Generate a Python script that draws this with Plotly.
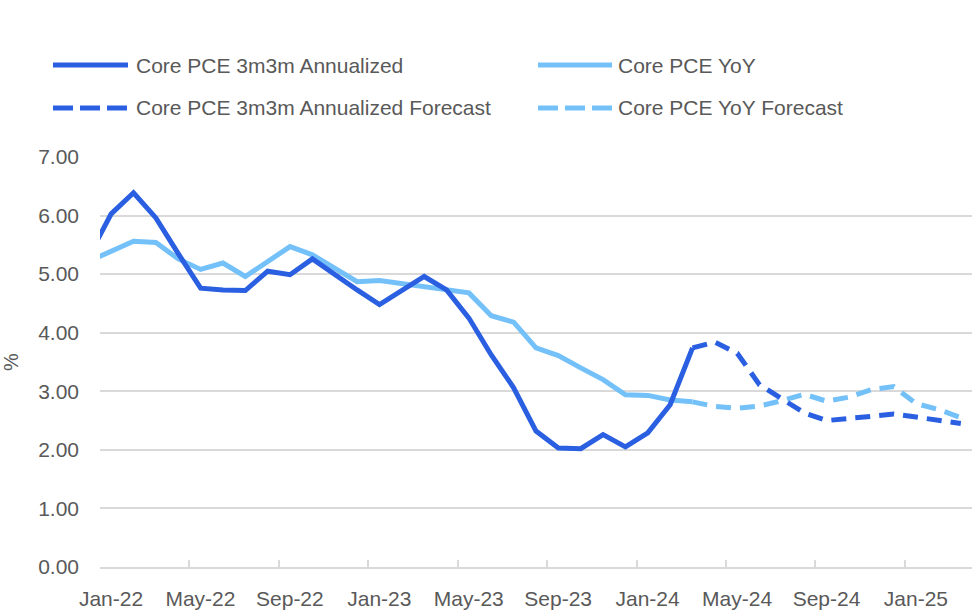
import plotly.graph_objects as go
import pandas as pd

# ---------------- data ----------------
months = [d.strftime("%b-%y") for d in pd.date_range("2021-12-01", "2025-03-01", freq="MS")]

core_3m3m = [5.30, 6.03, 6.39, 5.96, 5.35, 4.76, 4.73, 4.72, 5.05, 4.99, 5.26, 4.99,
             4.73, 4.48, 4.73, 4.96, 4.73, 4.25, 3.62, 3.06, 2.32, 2.03, 2.02, 2.26,
             2.05, 2.29, 2.77, 3.74]
core_yoy = [5.22, 5.38, 5.56, 5.54, 5.26, 5.08, 5.19, 4.96, 5.22, 5.47, 5.33, 5.10,
            4.87, 4.89, 4.84, 4.79, 4.75, 4.68, 4.29, 4.18, 3.74, 3.61, 3.40, 3.20,
            2.94, 2.93, 2.85, 2.82]
fc_3m3m = [3.74, 3.84, 3.65, 3.11, 2.87, 2.63, 2.50, 2.53, 2.57, 2.61, 2.56, 2.51, 2.45]
fc_yoy = [2.82, 2.74, 2.71, 2.75, 2.84, 2.95, 2.83, 2.90, 3.03, 3.08, 2.79, 2.69, 2.55]

tick_labels = ["Jan-22", "May-22", "Sep-22", "Jan-23", "May-23", "Sep-23",
               "Jan-24", "May-24", "Sep-24", "Jan-25"]
y_ticks = [0, 1, 2, 3, 4, 5, 6, 7]

names = ["Core PCE 3m3m Annualized", "Core PCE YoY",
         "Core PCE 3m3m Annualized Forecast", "Core PCE YoY Forecast"]

# ---------------- style ----------------
DARK = "#2A5FE2"
LIGHT = "#74C1FA"
TXT = "#595959"
GRID = "#D9D9D9"
FONT = "Liberation Sans, Arial, sans-serif"
FS = 21
DASH = "15px,9px"
LW = 5

W, H = 972, 615
ML, MR, MT, MB = 100, 0, 157, 48
PW, PH = W - ML - MR, H - MT - MB

# month index positions on a linear axis (one unit per month)
pos = {m: i for i, m in enumerate(months)}
n_hist = len(core_3m3m)
hist_x = [pos[m] for m in months[:n_hist]]
fc_x = [pos[m] for m in months[n_hist - 1:]]
x_lo, x_hi = pos["Jan-22"] - 0.5, len(months) - 0.5
half_cat_px = int(round(PW / (x_hi - x_lo) / 2))

fig = go.Figure()
fig.add_trace(go.Scatter(x=fc_x, y=fc_yoy, mode="lines", name=names[3],
                         line=dict(color=LIGHT, width=LW, dash=DASH)))
fig.add_trace(go.Scatter(x=hist_x, y=core_yoy, mode="lines", name=names[1],
                         line=dict(color=LIGHT, width=LW)))
fig.add_trace(go.Scatter(x=fc_x, y=fc_3m3m, mode="lines", name=names[2],
                         line=dict(color=DARK, width=LW, dash=DASH)))
fig.add_trace(go.Scatter(x=hist_x, y=core_3m3m, mode="lines", name=names[0],
                         line=dict(color=DARK, width=LW)))

# ---------------- manual legend ----------------
def px2paper(px, py):
    return (px - ML) / PW, (H - MB - py) / PH

legend_items = [
    (names[0], DARK, None, 53, 128, 134, 65),
    (names[1], LIGHT, None, 538, 612, 616, 65),
    (names[2], DARK, "20px,7px", 53, 128, 134, 108),
    (names[3], LIGHT, "20px,7px", 538, 612, 616, 108),
]
shapes = []
annotations = []
for text, col, dash, x0, x1, tx, ty in legend_items:
    a0, b0 = px2paper(x0, ty)
    a1, _ = px2paper(x1, ty)
    shapes.append(dict(type="line", xref="paper", yref="paper", x0=a0, x1=a1, y0=b0, y1=b0,
                       line=dict(color=col, width=LW, dash=dash if dash else "solid")))
    ta, tb = px2paper(tx, ty)
    annotations.append(dict(text=text, xref="paper", yref="paper", x=ta, y=tb,
                            xanchor="left", yanchor="middle", showarrow=False,
                            font=dict(family=FONT, size=FS, color=TXT)))

fig.update_layout(
    width=W, height=H,
    margin=dict(l=ML, r=MR, t=MT, b=MB, autoexpand=False),
    paper_bgcolor="white", plot_bgcolor="white",
    showlegend=False,
    shapes=shapes, annotations=annotations,
    font=dict(family=FONT, color=TXT),
)
fig.update_xaxes(
    range=[x_lo, x_hi], automargin=False,
    tickmode="array", tickvals=[pos[t] - 0.5 for t in tick_labels], ticktext=tick_labels,
    ticklabelshift=half_cat_px, tickangle=0,
    ticks="inside", ticklen=7, tickcolor=GRID, tickwidth=1.5,
    showline=True, linecolor=GRID, linewidth=2, showgrid=False, zeroline=False,
    tickfont=dict(family=FONT, size=FS, color=TXT), ticklabelstandoff=12,
)
fig.update_yaxes(
    range=[0, 7], automargin=False, tickmode="array", tickvals=y_ticks, tickformat=".2f",
    showgrid=True, gridcolor=GRID, gridwidth=1.5, zeroline=False, showline=False,
    tickfont=dict(family=FONT, size=FS, color=TXT), ticklabelstandoff=20,
    title=dict(text="%", font=dict(family=FONT, size=20, color=TXT), standoff=14),
)

fig.write_html("out.html")
